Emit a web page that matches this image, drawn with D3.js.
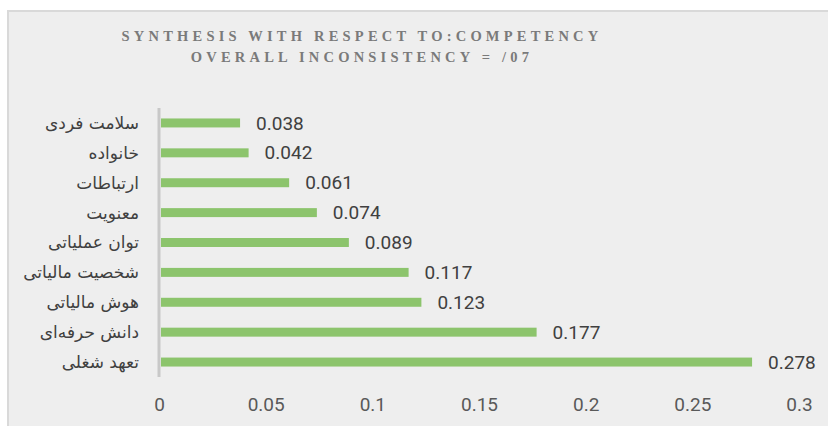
<!DOCTYPE html>
<html>
<head>
	<meta charset="utf-8">
	<title>Synthesis with respect to competency</title>
	<script src="https://d3js.org/d3.v7.min.js"></script>
	<style>
		body { margin: 0; background: #ffffff; }
		.axis path, .axis line { display: none; }
		.axis text { font-family: Roboto, sans-serif; font-size: 19px; fill: #595959; }
		.cat { font-family: "DejaVu Sans", serif; font-size: 17px; fill: #404040; }
		.val { font-family: Roboto, sans-serif; font-size: 19px; fill: #404040; }
		.title { font-family: "Liberation Serif", serif; font-weight: bold; font-size: 14.5px; fill: #7a7a7a; letter-spacing: 4.2px; }
	</style>
</head>
<body>
<script>
	var categories = ["سلامت فردی", "خانواده", "ارتباطات", "معنویت", "توان عملیاتی", "شخصیت مالیاتی", "هوش مالیاتی", "دانش حرفه‌ای", "تعهد شغلی"];
	var values = [0.038, 0.042, 0.061, 0.074, 0.089, 0.117, 0.123, 0.177, 0.278];
	var tickValues = [0, 0.05, 0.1, 0.15, 0.2, 0.25, 0.3];
	var titleLines = ["SYNTHESIS WITH RESPECT TO:COMPETENCY", "OVERALL INCONSISTENCY = /07"];

	var width = 828, height = 426;

	var svg = d3.select("body").append("svg")
		.attr("width", width)
		.attr("height", height);

	// chart frame
	svg.append("rect")
		.attr("x", 8).attr("y", 11)
		.attr("width", width).attr("height", height)
		.attr("fill", "#eeeeee")
		.attr("stroke", "#d9d9d9")
		.attr("stroke-width", 2);

	var xScale = d3.scaleLinear()
		.domain([0, 0.3])
		.range([159, 799]);

	var yScale = d3.scaleBand()
		.domain(categories)
		.range([108, 377])
		.paddingInner(0.7)
		.paddingOuter(0.35);

	// title
	svg.selectAll(".title")
		.data(titleLines)
		.enter()
		.append("text")
		.attr("class", "title")
		.attr("x", 362)
		.attr("y", function(d, i){ return 41 + i * 21; })
		.attr("text-anchor", "middle")
		.text(function(d){ return d; });

	// bars
	svg.selectAll(".bar")
		.data(values)
		.enter()
		.append("rect")
		.attr("class", "bar")
		.attr("x", xScale(0) + 2)
		.attr("y", function(d, i){ return yScale(categories[i]); })
		.attr("width", function(d){ return xScale(d) - xScale(0) - 2; })
		.attr("height", yScale.bandwidth())
		.attr("fill", "#8cc46c");

	// value labels
	svg.selectAll(".val")
		.data(values)
		.enter()
		.append("text")
		.attr("class", "val")
		.attr("x", function(d){ return xScale(d) + 16; })
		.attr("y", function(d, i){ return yScale(categories[i]) + yScale.bandwidth() / 2; })
		.attr("dy", "0.35em")
		.text(function(d){ return d3.format(".3f")(d); });

	// category labels
	svg.selectAll(".cat")
		.data(categories)
		.enter()
		.append("text")
		.attr("class", "cat")
		.attr("x", 139)
		.attr("y", function(d){ return yScale(d) + yScale.bandwidth() / 2; })
		.attr("dy", "0.35em")
		.attr("text-anchor", "end")
		.text(function(d){ return d; });

	// vertical axis line
	svg.append("line")
		.attr("x1", 159).attr("x2", 159)
		.attr("y1", 108).attr("y2", 377)
		.attr("stroke", "#c8c8c8")
		.attr("stroke-width", 3);

	// x axis labels
	var xaxis = d3.axisBottom(xScale)
		.tickValues(tickValues)
		.tickSize(0)
		.tickPadding(0)
		.tickFormat(function(d){ return d3.format("")(d); });

	svg.append("g")
		.attr("class", "axis")
		.attr("transform", "translate(0, 397)")
		.call(xaxis);
</script>
</body>
</html>
